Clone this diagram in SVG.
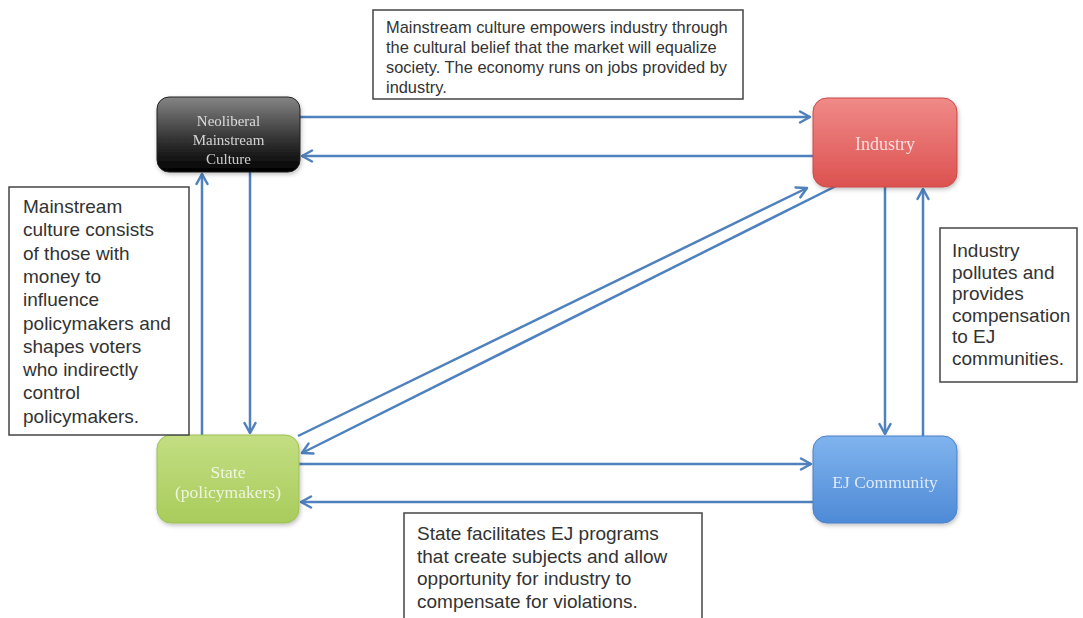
<svg xmlns="http://www.w3.org/2000/svg" width="1083" height="618" viewBox="0 0 1083 618">
<defs>
<linearGradient id="gNeo" x1="0" y1="0" x2="0" y2="1"><stop offset="0" stop-color="#858585"/><stop offset="0.55" stop-color="#353535"/><stop offset="1" stop-color="#000"/></linearGradient>
<linearGradient id="gInd" x1="0" y1="0" x2="0" y2="1"><stop offset="0" stop-color="#f08a88"/><stop offset="1" stop-color="#dc5250"/></linearGradient>
<linearGradient id="gState" x1="0" y1="0" x2="0" y2="1"><stop offset="0" stop-color="#c3de82"/><stop offset="1" stop-color="#a9cc5c"/></linearGradient>
<linearGradient id="gEJ" x1="0" y1="0" x2="0" y2="1"><stop offset="0" stop-color="#80b4ee"/><stop offset="1" stop-color="#4e8ad6"/></linearGradient>
<filter id="sh" x="-10%" y="-10%" width="130%" height="130%"><feDropShadow dx="1" dy="2" stdDeviation="2" flood-color="#000" flood-opacity="0.25"/></filter>
<marker id="ah" viewBox="0 0 14 14" refX="12" refY="7" markerWidth="14" markerHeight="14" markerUnits="userSpaceOnUse" orient="auto">
<path d="M2,1.5 L12,7 L2,12.5" fill="none" stroke="#4f81bd" stroke-width="2.5" stroke-linecap="round" stroke-linejoin="round"/>
</marker>
</defs>
<style>
.node{filter:url(#sh);}
.nt{font-family:"Liberation Serif","Times New Roman",serif;text-anchor:middle;fill:#ffffff;fill-opacity:0.78;}
.conn line{stroke:#4f81bd;stroke-width:2.5;marker-end:url(#ah);}
.box{fill:#fff;stroke:#444;stroke-width:1.5;}
.bt{font-family:"Liberation Sans",Arial,sans-serif;fill:#333;}
</style>
<rect width="1083" height="618" fill="#fff"/>

<g id="connectors" class="conn">
<line x1="300" y1="117" x2="810" y2="117"/>
<line x1="813" y1="156" x2="302" y2="156"/>
<line x1="202" y1="435" x2="202" y2="174"/>
<line x1="250" y1="172" x2="250" y2="433"/>
<line x1="885" y1="187" x2="885" y2="434"/>
<line x1="923" y1="436" x2="923" y2="189"/>
<line x1="299" y1="464" x2="811" y2="464"/>
<line x1="813" y1="502" x2="301" y2="502"/>
<line x1="298" y1="436" x2="807" y2="188"/>
<line x1="836" y1="186" x2="302" y2="453"/>
</g>

<g id="node-neoliberal" class="node">
<rect x="157" y="97" width="143" height="75" rx="12" fill="url(#gNeo)" stroke="#222" stroke-width="1"/>
<text class="nt" font-size="15" x="228.5"><tspan x="228.5" y="126">Neoliberal</tspan><tspan x="228.5" y="145">Mainstream</tspan><tspan x="228.5" y="164">Culture</tspan></text>
</g>

<g id="node-industry" class="node">
<rect x="813" y="98" width="144" height="89" rx="14" fill="url(#gInd)" stroke="#c94a48" stroke-width="1"/>
<text class="nt" font-size="18" x="885" y="150">Industry</text>
</g>

<g id="node-state" class="node">
<rect x="157" y="435" width="142" height="88" rx="14" fill="url(#gState)" stroke="#9cbf55" stroke-width="1"/>
<text class="nt" font-size="17.5" x="228"><tspan x="228" y="478">State</tspan><tspan x="228" y="498">(policymakers)</tspan></text>
</g>

<g id="node-ej" class="node">
<rect x="813" y="436" width="144" height="87" rx="14" fill="url(#gEJ)" stroke="#4a80c8" stroke-width="1"/>
<text class="nt" font-size="17.5" x="885" y="488">EJ Community</text>
</g>

<g id="note-top">
<rect class="box" x="373" y="10" width="370" height="89"/>
<text class="bt" font-size="16.4"><tspan x="386" y="33">Mainstream culture empowers industry through</tspan><tspan x="386" y="53">the cultural belief that the market will equalize</tspan><tspan x="386" y="73">society. The economy runs on jobs provided by</tspan><tspan x="386" y="93">industry.</tspan></text>
</g>

<g id="note-left">
<rect class="box" x="9" y="187" width="180" height="248"/>
<text class="bt" font-size="19"><tspan x="23" y="213">Mainstream</tspan><tspan x="23" y="236.3">culture consists</tspan><tspan x="23" y="259.6">of those with</tspan><tspan x="23" y="282.9">money to</tspan><tspan x="23" y="306.2">influence</tspan><tspan x="23" y="329.5">policymakers and</tspan><tspan x="23" y="352.8">shapes voters</tspan><tspan x="23" y="376.1">who indirectly</tspan><tspan x="23" y="399.4">control</tspan><tspan x="23" y="422.7">policymakers.</tspan></text>
</g>

<g id="note-right">
<rect class="box" x="940" y="228" width="137" height="154"/>
<text class="bt" font-size="19"><tspan x="952" y="257">Industry</tspan><tspan x="952" y="278.5">pollutes and</tspan><tspan x="952" y="300">provides</tspan><tspan x="952" y="321.5">compensation</tspan><tspan x="952" y="343">to EJ</tspan><tspan x="952" y="364.5">communities.</tspan></text>
</g>

<g id="note-bottom">
<rect class="box" x="404" y="513" width="298" height="120"/>
<text class="bt" font-size="19"><tspan x="417" y="540">State facilitates EJ programs</tspan><tspan x="417" y="562.5">that create subjects and allow</tspan><tspan x="417" y="585">opportunity for industry to</tspan><tspan x="417" y="607.5">compensate for violations.</tspan></text>
</g>
</svg>
